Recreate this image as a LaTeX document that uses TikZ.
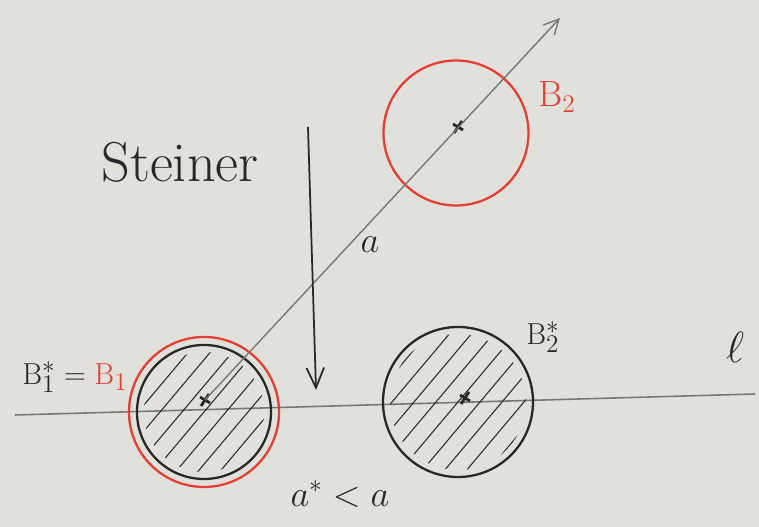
\documentclass[tikz,border=0pt]{standalone}
\usetikzlibrary{arrows.meta}
\definecolor{carta}{RGB}{226,224,218}
\definecolor{penna}{RGB}{40,40,40}
\definecolor{rosso}{RGB}{226,64,52}
\definecolor{matita}{RGB}{120,120,115}
\tikzset{
  palla/.style={circle, draw=penna, line width=1.3pt, inner sep=0pt, minimum size=#1},
  pallarossa/.style={circle, draw=rosso, line width=1.3pt, inner sep=0pt, minimum size=#1},
  tratteggio/.style={penna, line width=0.6pt},
  croce/.style={penna, line width=1.6pt},
  scritta/.style={text=penna, inner sep=1pt}
}
\begin{document}
\begin{tikzpicture}
    % foglio
    \fill[carta] (0,0) rectangle (15.18,10.54);
    \useasboundingbox (0,0) rectangle (15.18,10.54);
    % retta l
    \coordinate (l0) at (0.30,2.24);
    \coordinate (l1) at (15.10,2.66);
    \draw[matita, line width=0.9pt] (l0) -- (l1);
    % palle
    \node[pallarossa=3.0cm] (B1) at (4.08,2.30) {};
    \node[palla=2.68cm] (B1s) at (4.08,2.30) {};
    \node[palla=3.0cm] (B2s) at (9.16,2.50) {};
    \node[pallarossa=2.9cm] (B2) at (9.12,7.88) {};
    % tratteggio
    \foreach \c/\r in {B1s/1.20,B2s/1.36} {
      \begin{scope}
        \clip (\c) circle (\r);
        \foreach \k in {-6,...,6} {
          \draw[tratteggio, shift={(\c)}] (\k*0.44-1.6,-1.9) -- ++(3.2,3.8);
        }
      \end{scope}
    }
    % centri
    \coordinate (m1) at (4.10,2.54);
    \coordinate (m2) at (9.16,8.00);
    \coordinate (m2s) at (9.30,2.58);
    \foreach \m in {m1,m2,m2s} {
      \draw[croce] ([shift={(-0.08,-0.12)}]\m) -- ([shift={(0.08,0.12)}]\m);
      \draw[croce] ([shift={(-0.1,0.06)}]\m) -- ([shift={(0.1,-0.06)}]\m);
    }
    % direzione di spostamento
    \coordinate (fine) at (11.20,10.18);
    \draw[matita, line width=0.8pt, -{Straight Barb[length=3mm,width=3mm]}] (m1) -- (fine);
    \coordinate (v0) at (6.16,8.00);
    \coordinate (v1) at (6.32,2.74);
    \draw[penna, line width=1pt, -{Straight Barb[length=4mm,width=3.5mm]}] (v0) -- (v1);
    % testi
    \node[scritta, font=\fontsize{32}{36}\selectfont] (titolo) at (3.60,7.30) {Steiner};
    \node[scritta, font=\fontsize{20}{24}\selectfont] (dist) at (7.40,5.64) {$a$};
    \node[scritta, font=\fontsize{19}{23}\selectfont] (lab1) at (1.50,3.00) {$\mathrm{B}_1^* = {\color{rosso}\mathrm{B}_1}$};
    \node[scritta, text=rosso, font=\fontsize{22}{26}\selectfont] (lab2) at (11.14,8.60) {$\mathrm{B}_2$};
    \node[scritta, font=\fontsize{19}{23}\selectfont] (lab2s) at (10.86,3.80) {$\mathrm{B}_2^*$};
    \node[scritta, font=\fontsize{30}{34}\selectfont] (ell) at (14.70,3.60) {$\ell$};
    \node[scritta, font=\fontsize{20}{24}\selectfont] (conf) at (6.80,0.66) {$a^* < a$};
\end{tikzpicture}
\end{document}
